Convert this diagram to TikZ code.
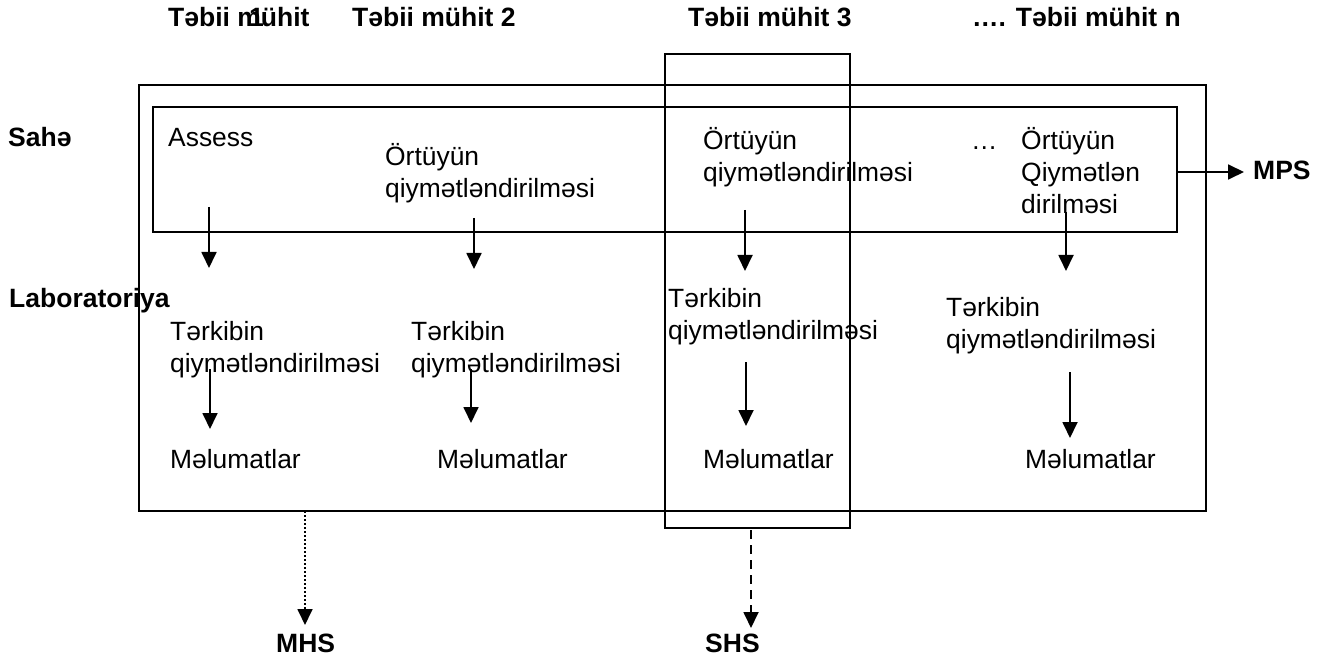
\documentclass[tikz,border=0pt]{standalone}
\usepackage{fontspec}
\setmainfont{Liberation Sans}
\usetikzlibrary{arrows.meta}
\begin{document}
\begin{tikzpicture}[x=1pt,y=-1pt,
 box/.style={draw,line width=1.8pt,outer sep=0pt,inner sep=0pt},
 txt/.style={anchor=base west,inner sep=0pt,align=left,font=\fontsize{26.4}{32}\selectfont},
 lbl/.style={anchor=base west,inner sep=0pt,font=\fontsize{26.5}{32}\selectfont\bfseries},
 arr/.style={line width=1.8pt,-{Triangle[width=15pt,length=16pt]}},
]
\useasboundingbox (0,0) rectangle (1325,660);
% boxes
\node[box,minimum width=1067pt,minimum height=426pt] (outer) at (672.5,298) {};
\node[box,minimum width=1024pt,minimum height=125pt] (inner) at (665,169.5) {};
\node[box,minimum width=185pt,minimum height=474pt] (col) at (757.5,291) {};
% headers
\node[lbl] (h1) at (168,27) {Təbii mühit};
\node[lbl] (h1n) at (249,27) {1};
\node[lbl] (h2) at (352,27) {Təbii mühit 2};
\node[lbl] (h3) at (688,27) {Təbii mühit 3};
\node[lbl] (h4) at (972,27) {…. Təbii mühit n};
% side labels
\node[lbl] (sahe) at (8,147) {Sahə};
\node[lbl] (lab) at (9,308) {Laboratoriya};
\node[lbl] (mps) at (1253,180) {MPS};
\node[lbl] (mhs) at (276,652) {MHS};
\node[lbl] (shs) at (705,652) {SHS};
% field row
\node[txt] (s1) at (168,147) {Assess};
\node[txt] (s2) at (385,198) {Örtüyün\\qiymətləndirilməsi};
\node[txt] (s3) at (703,182) {Örtüyün\\qiymətləndirilməsi};
\node[txt] (dots) at (971,150) {…};
\node[txt] (s4) at (1021,214) {Örtüyün\\Qiymətlən\\dirilməsi};
% lab row
\node[txt] (l1) at (170,372) {Tərkibin\\qiymətləndirilməsi};
\node[txt] (l2) at (411,372) {Tərkibin\\qiymətləndirilməsi};
\node[txt] (l3) at (668,339) {Tərkibin\\qiymətləndirilməsi};
\node[txt] (l4) at (946,348) {Tərkibin\\qiymətləndirilməsi};
% data
\node[txt] (d1) at (170,468) {Məlumatlar};
\node[txt] (d2) at (437,468) {Məlumatlar};
\node[txt] (d3) at (703,468) {Məlumatlar};
\node[txt] (d4) at (1025,468) {Məlumatlar};
% arrow end points
\coordinate (a1s) at (209,207); \coordinate (a1e) at (209,268);
\coordinate (a2s) at (474,218); \coordinate (a2e) at (474,269);
\coordinate (a3s) at (745,210); \coordinate (a3e) at (745,271);
\coordinate (a4s) at (1066,212); \coordinate (a4e) at (1066,271);
\coordinate (b1s) at (210,369); \coordinate (b1e) at (210,429);
\coordinate (b2s) at (471,369); \coordinate (b2e) at (471,423);
\coordinate (b3s) at (746,362); \coordinate (b3e) at (746,426);
\coordinate (b4s) at (1070,372); \coordinate (b4e) at (1070,438);
\draw[arr] (a1s) -- (a1e);
\draw[arr] (a2s) -- (a2e);
\draw[arr] (a3s) -- (a3e);
\draw[arr] (a4s) -- (a4e);
\draw[arr] (b1s) -- (b1e);
\draw[arr] (b2s) -- (b2e);
\draw[arr] (b3s) -- (b3e);
\draw[arr] (b4s) -- (b4e);
% outputs
\coordinate (mpsTip) at (1244,172);
\draw[arr] (inner.east |- mpsTip) -- (mpsTip);
\coordinate (mhsTop) at (305,511);
\coordinate (mhsEnd) at (305,625);
\draw[arr,dash pattern=on 2pt off 2pt] (mhsTop) -- (mhsEnd);
\coordinate (shsTop) at (751,530);
\coordinate (shsEnd) at (751,628);
\draw[arr,dash pattern=on 9pt off 6pt] (shsTop) -- (shsEnd);
\end{tikzpicture}
\end{document}
